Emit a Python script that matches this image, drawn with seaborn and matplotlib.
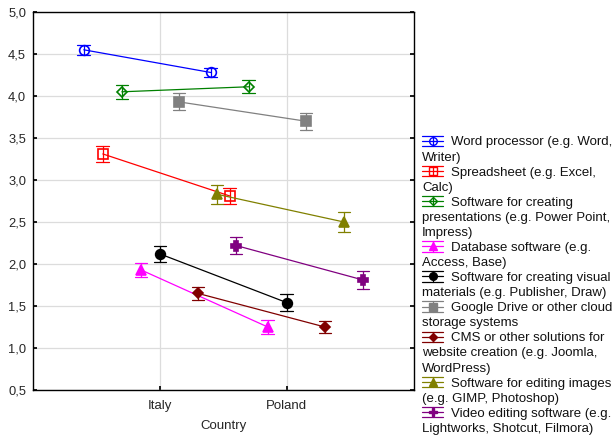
import numpy as np
import pandas as pd
import matplotlib
matplotlib.use("Agg")
import matplotlib.pyplot as plt
from matplotlib.lines import Line2D
from matplotlib.legend_handler import HandlerBase
from matplotlib.ticker import FuncFormatter, MultipleLocator
from matplotlib.colors import to_hex
import seaborn as sns

# ---------------- data ----------------
countries = ["Italy", "Poland"]
software = [
    "Word processor (e.g. Word,|Writer)",
    "Spreadsheet (e.g. Excel,|Calc)",
    "Software for creating|presentations (e.g. Power Point,|Impress)",
    "Database software (e.g.|Access, Base)",
    "Software for creating visual|materials (e.g. Publisher, Draw)",
    "Google Drive or other cloud|storage systems",
    "CMS or other solutions for|website creation (e.g. Joomla,|WordPress)",
    "Software for editing images|(e.g. GIMP, Photoshop)",
    "Video editing software (e.g.|Lightworks, Shotcut, Filmora)",
]
mean_italy = [4.55, 3.31, 4.05, 1.93, 2.12, 3.93, 1.65, 2.83, 2.22]
mean_poland = [4.28, 2.81, 4.11, 1.25, 1.54, 3.70, 1.25, 2.50, 1.81]
err_italy = [0.06, 0.10, 0.08, 0.085, 0.10, 0.10, 0.078, 0.115, 0.105]
err_poland = [0.055, 0.10, 0.08, 0.083, 0.10, 0.10, 0.077, 0.115, 0.105]
colors = ["#0000ff", "#ff0000", "#008000", "#ff00ff", "#000000",
          "#808080", "#800000", "#808000", "#800080"]
markers = ["o", "s", "D", "^", "o", "s", "D", "^", "P"]
open_marker = [True, True, True, False, False, False, False, False, False]

# long table: each group given as (mean - err, mean + err) so the
# aggregated mean is the value and the min/max span is the error bar
rows = []
for s, mi, mp, ei, ep in zip(software, mean_italy, mean_poland, err_italy, err_poland):
    for c, m, e in (("Italy", mi, ei), ("Poland", mp, ep)):
        rows.append({"Country": c, "Software": s, "Value": m - e})
        rows.append({"Country": c, "Software": s, "Value": m + e})
df = pd.DataFrame(rows)

# ---------------- style ----------------
sns.set_theme(style="whitegrid")
plt.rcParams["font.family"] = ["Liberation Sans", "DejaVu Sans"]
plt.rcParams["text.color"] = "#111111"

fig = plt.figure(figsize=(6.12, 4.38), dpi=100)
ax = fig.add_axes([0.054, 0.1096, 0.622, 0.863])

sns.pointplot(
    data=df, x="Country", y="Value", hue="Software",
    order=countries, hue_order=software,
    estimator="mean", errorbar=lambda v: (v.min(), v.max()),
    palette=colors, markers=markers, linestyles="-",
    dodge=1.2, capsize=0.1, err_kws={"linewidth": 0.9},
    linewidth=0.9, markersize=7, markeredgewidth=1.2,
    legend=False, ax=ax,
)

col2open = {c: o for c, o in zip(colors, open_marker)}
for ln in ax.lines:
    if ln.get_marker() not in (None, "None", "", " "):
        c = to_hex(ln.get_color())
        if col2open.get(c, False):
            ln.set_markerfacecolor("none")
        if ln.get_marker() == "D":
            ln.set_markersize(5.5)
        if ln.get_marker() == "^":
            ln.set_markersize(6.5)
        if ln.get_marker() == "P":
            ln.set_markersize(6.5)
        ln.set_zorder(5)

ax.set_xlim(-1, 2)
ax.set_ylim(0.5, 5.0)
ax.yaxis.set_major_locator(MultipleLocator(0.5))
ax.yaxis.set_major_formatter(FuncFormatter(lambda v, p: f"{v:.1f}".replace(".", ",")))
ax.xaxis.grid(True)
ax.yaxis.grid(True)
ax.grid(color="#dcdcdc", linewidth=0.9)
ax.set_axisbelow(True)
for sp in ax.spines.values():
    sp.set_color("black")
    sp.set_linewidth(1.0)
ax.tick_params(axis="y", labelsize=9.3, direction="in", length=3, left=True, right=True, color="black", pad=5)
ax.tick_params(axis="x", labelsize=9.5, direction="in", length=3, bottom=True, top=False, color="black", pad=7)
ax.set_xlabel("Country", fontsize=9.5, labelpad=6)
ax.set_ylabel("")


# ---------------- legend ----------------
class StatHandle:
    def __init__(self, color, marker, is_open):
        self.color = color
        self.marker = marker
        self.is_open = is_open


class StatHandler(HandlerBase):
    def create_artists(self, legend, orig_handle, xdescent, ydescent,
                       width, height, fontsize, trans):
        c = orig_handle.color
        x0, x1 = -xdescent, -xdescent + width
        xm = (x0 + x1) / 2
        cy = height / 2 - ydescent
        dy = 3.8
        arts = []
        for y in (cy - dy, cy, cy + dy):
            arts.append(Line2D([x0, x1], [y, y], color=c, lw=0.9))
        arts.append(Line2D([xm, xm], [cy - dy, cy + dy], color=c, lw=0.9))
        ms = 4.5 if orig_handle.marker == "D" else 5.5
        arts.append(Line2D([xm], [cy], marker=orig_handle.marker, markersize=ms,
                           markeredgewidth=1.0, markeredgecolor=c,
                           markerfacecolor="none" if orig_handle.is_open else c,
                           linestyle="none"))
        for a in arts:
            a.set_transform(trans)
        return arts


handles, labels = [], []
blank = Line2D([], [], linestyle="none")
for s, c, m, o in zip(software, colors, markers, open_marker):
    parts = s.split("|")
    handles.append(StatHandle(c, m, o))
    labels.append(" " * 8 + parts[0])
    for p in parts[1:]:
        handles.append(blank)
        labels.append(p)

leg = fig.legend(
    handles, labels, handler_map={StatHandle: StatHandler()},
    loc="upper left", bbox_to_anchor=(0.6895, 0.689),
    frameon=False, fontsize=9.5, handlelength=1.6, handletextpad=-1.6,
    labelspacing=0.215, borderpad=0, borderaxespad=0,
)

fig.savefig("out.png", dpi=100)
